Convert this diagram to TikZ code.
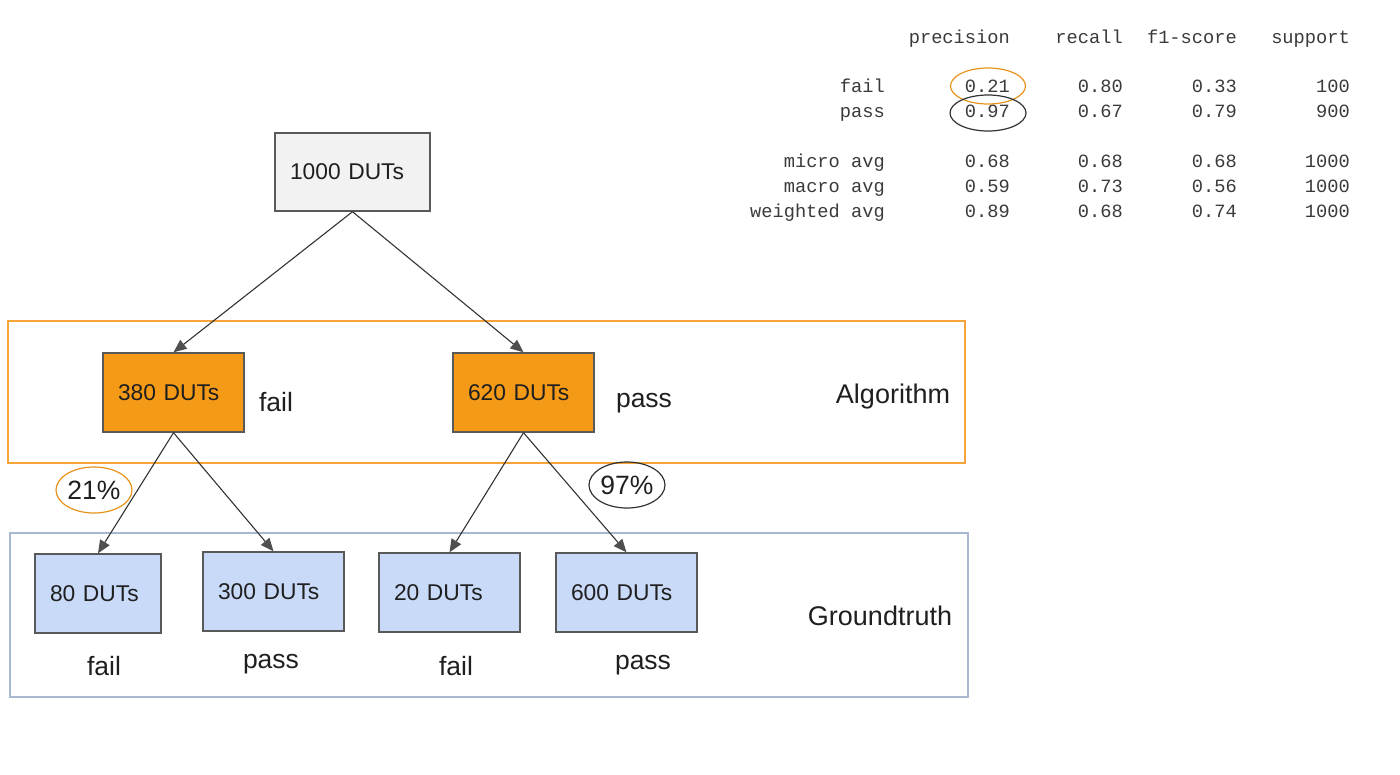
\documentclass[tikz,border=0pt]{standalone}
\usepackage{fontspec}
\setmainfont{Liberation Sans}
\newfontfamily\monofont{Liberation Mono}
\usetikzlibrary{arrows.meta,shapes.geometric}
\definecolor{orangefill}{HTML}{F59A17}
\definecolor{bluefill}{HTML}{C9DAF8}
\definecolor{grayfill}{HTML}{F2F2F2}
\definecolor{boxline}{HTML}{595959}
\definecolor{algframe}{HTML}{F6A33A}
\definecolor{gtframe}{HTML}{A8B8D0}
\definecolor{txt}{HTML}{1F1F1F}
\definecolor{monotxt}{HTML}{3A3A3A}
\definecolor{ringorange}{HTML}{E8921C}
\definecolor{ringdark}{HTML}{333333}
\definecolor{arrowcol}{HTML}{333333}
\definecolor{tipcol}{HTML}{4F4F4F}
\tikzset{
  dutbox/.style={draw=boxline, line width=1.4pt, inner xsep=15pt, inner ysep=0pt,
    minimum height=79pt, align=left, text=txt, font=\fontsize{22.8}{27}\selectfont},
  frame/.style={line width=1.2pt, inner sep=0pt},
  lbl/.style={anchor=base, inner sep=0pt, text=txt, font=\fontsize{26.5}{30}\selectfont},
  ring/.style={ellipse, line width=1.2pt, inner sep=0pt, text=txt, font=\fontsize{26.5}{30}\selectfont},
  conn/.style={draw=arrowcol, line width=1.1pt, -{Triangle[length=13pt,width=11pt,color=tipcol,fill=tipcol]}},
  cell/.style={anchor=base east, inner sep=0pt, text=monotxt, font=\monofont\fontsize{18.7}{21}\selectfont},
}
\begin{document}
\begin{tikzpicture}[x=1pt,y=-1pt]
\useasboundingbox (0,0) rectangle (1400,774);
% frames
\node[frame, draw=algframe, minimum width=957pt, minimum height=142pt] (algf) at (486.5,392) {};
\node[frame, draw=gtframe, minimum width=958pt, minimum height=164pt] (gtf) at (489,615) {};
% boxes
\node[dutbox, fill=grayfill, text width=125pt, minimum height=78pt] (top) at (352.5,172) {1000 DUTs};
\node[dutbox, fill=orangefill, text width=111pt] (a1) at (173.5,392.5) {380 DUTs};
\node[dutbox, fill=orangefill, text width=111pt] (a2) at (523.5,392.5) {620 DUTs};
\node[dutbox, fill=bluefill, text width=96pt] (g1) at (98,593.5) {80 DUTs};
\node[dutbox, fill=bluefill, text width=111pt] (g2) at (273.5,591.5) {300 DUTs};
\node[dutbox, fill=bluefill, text width=111pt] (g3) at (449.5,592.5) {20 DUTs};
\node[dutbox, fill=bluefill, text width=111pt] (g4) at (626.5,592.5) {600 DUTs};
% connectors
\draw[conn] (top.south) -- (a1.north);
\draw[conn] (top.south) -- (a2.north);
\draw[conn] (a1.south) -- (g1.north);
\draw[conn] (a1.south) -- (g2.north);
\draw[conn] (a2.south) -- (g3.north);
\draw[conn] (a2.south) -- (g4.north);
% labels
\node[lbl] (l1) at (276,411) {fail};
\node[lbl] (l2) at (644,407) {pass};
\node[lbl, font=\fontsize{27}{31}\selectfont] (lalg) at (893,403) {Algorithm};
\node[lbl, font=\fontsize{27}{31}\selectfont] (lgt) at (880,625) {Groundtruth};
\node[lbl] (b1) at (104,675) {fail};
\node[lbl] (b2) at (271,668) {pass};
\node[lbl] (b3) at (456,675) {fail};
\node[lbl] (b4) at (643,669) {pass};
% percentage rings
\node[ring, draw=ringorange, minimum width=76pt, minimum height=46pt] (p21) at (94,490) {21\%};
\node[ring, draw=ringdark, minimum width=76pt, minimum height=46pt] (p97) at (627,485) {97\%};
% table
\node[cell] (h1) at (1010,43) {precision};
\node[cell] (h2) at (1123,43) {recall};
\node[cell] (h3) at (1237,43) {f1-score};
\node[cell] (h4) at (1350,43) {support};
\node[cell] (r1) at (885,92) {fail};
\node[cell] (r1a) at (1010,92) {0.21};
\node[cell] (r1b) at (1123,92) {0.80};
\node[cell] (r1c) at (1237,92) {0.33};
\node[cell] (r1d) at (1350,92) {100};
\node[cell] (r2) at (885,117) {pass};
\node[cell] (r2a) at (1010,117) {0.97};
\node[cell] (r2b) at (1123,117) {0.67};
\node[cell] (r2c) at (1237,117) {0.79};
\node[cell] (r2d) at (1350,117) {900};
\node[cell] (r3) at (885,167) {micro avg};
\node[cell] (r3a) at (1010,167) {0.68};
\node[cell] (r3b) at (1123,167) {0.68};
\node[cell] (r3c) at (1237,167) {0.68};
\node[cell] (r3d) at (1350,167) {1000};
\node[cell] (r4) at (885,192) {macro avg};
\node[cell] (r4a) at (1010,192) {0.59};
\node[cell] (r4b) at (1123,192) {0.73};
\node[cell] (r4c) at (1237,192) {0.56};
\node[cell] (r4d) at (1350,192) {1000};
\node[cell] (r5) at (885,217) {weighted avg};
\node[cell] (r5a) at (1010,217) {0.89};
\node[cell] (r5b) at (1123,217) {0.68};
\node[cell] (r5c) at (1237,217) {0.74};
\node[cell] (r5d) at (1350,217) {1000};
% rings in table
\node[ring, draw=ringorange, minimum width=75pt, minimum height=36pt] (t21) at (988,86) {};
\node[ring, draw=ringdark, minimum width=76pt, minimum height=36pt] (t97) at (988,113) {};
\end{tikzpicture}
\end{document}
